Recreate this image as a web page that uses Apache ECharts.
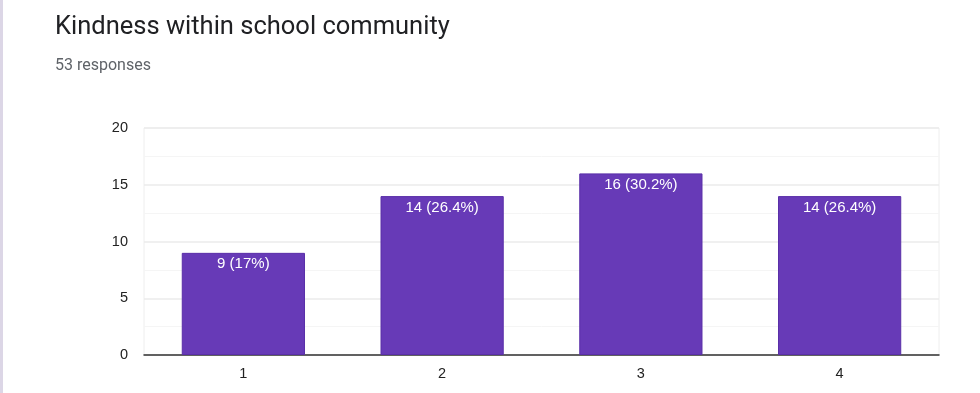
<!DOCTYPE html>
<html><head><meta charset="utf-8">
<script src="https://cdn.jsdelivr.net/npm/echarts@6/dist/echarts.min.js"></script>
<style>html,body{margin:0;padding:0;background:#fff;}#c{width:980px;height:393px;}
#edge{position:absolute;left:0;top:0;width:3px;height:393px;background:#dcd6e6;}</style>
</head><body><div id="edge"></div><div id="c"></div>
<script>
const categories = ['1','2','3','4'];
const values = [9,14,16,14];
const labels = ['9 (17%)','14 (26.4%)','16 (30.2%)','14 (26.4%)'];
const yTicks = [0,5,10,15,20];
const titleText = 'Kindness within school community';
const subtitleText = '53 responses';

const chart = echarts.init(document.getElementById('c'));
chart.setOption({
  animation:false,
  title:[{text:titleText,left:50,top:10,textStyle:{fontFamily:'Roboto',fontSize:25.5,fontWeight:'normal',color:'#202124'}},
         {text:subtitleText,left:50,top:53,textStyle:{fontFamily:'Roboto',fontSize:16,fontWeight:'normal',color:'#5f6368'}}],
  grid:{left:144,right:41,top:128,bottom:38,show:true,borderColor:'#eeeeee',borderWidth:1},
  xAxis:{type:'category',data:categories,axisTick:{show:false},
    axisLine:{lineStyle:{color:'#333',width:1.5}},
    axisLabel:{fontFamily:'Liberation Sans',fontSize:14.5,color:'#222',margin:11}},
  yAxis:{type:'value',min:yTicks[0],max:yTicks[yTicks.length-1],interval:5,
    axisLine:{show:false},axisTick:{show:false},
    axisLabel:{fontFamily:'Liberation Sans',fontSize:14.5,color:'#222',margin:16},
    splitLine:{lineStyle:{color:'#ebebeb',width:1.5}},
    minorTick:{show:false,splitNumber:2},minorSplitLine:{show:true,lineStyle:{color:'#f5f5f5'}}},
  series:[{type:'bar',data:values,barWidth:'62%',
    itemStyle:{color:'#673ab7',borderColor:'#5a2fa8',borderWidth:1},
    label:{show:true,position:'insideTop',distance:4,color:'#fff',fontFamily:'Liberation Sans',fontSize:15,
      formatter:p=>labels[p.dataIndex]}}]
});
</script></body></html>
